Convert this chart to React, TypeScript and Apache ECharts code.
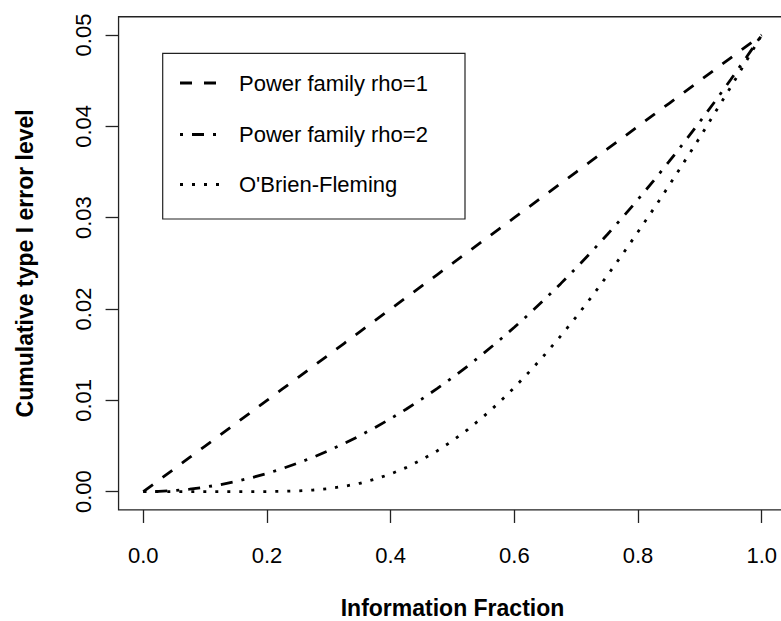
import React, { useEffect, useRef } from "react";
import * as echarts from "echarts";

const infoFraction = [0, 0.025, 0.05, 0.075, 0.1, 0.125, 0.15, 0.175, 0.2, 0.225, 0.25, 0.275, 0.3, 0.325, 0.35, 0.375, 0.4, 0.425, 0.45, 0.475, 0.5, 0.525, 0.55, 0.575, 0.6, 0.625, 0.65, 0.675, 0.7, 0.725, 0.75, 0.775, 0.8, 0.825, 0.85, 0.875, 0.9, 0.925, 0.95, 0.975, 1.0];
const powerRho1 = [0, 0.00125, 0.0025, 0.00375, 0.005, 0.00625, 0.0075, 0.00875, 0.01, 0.01125, 0.0125, 0.01375, 0.015, 0.01625, 0.0175, 0.01875, 0.02, 0.02125, 0.0225, 0.02375, 0.025, 0.02625, 0.0275, 0.02875, 0.03, 0.03125, 0.0325, 0.03375, 0.035, 0.03625, 0.0375, 0.03875, 0.04, 0.04125, 0.0425, 0.04375, 0.045, 0.04625, 0.0475, 0.04875, 0.05];
const powerRho2 = [0, 0.00003, 0.00013, 0.00028, 0.0005, 0.00078, 0.00113, 0.00153, 0.002, 0.00253, 0.00313, 0.00378, 0.0045, 0.00528, 0.00613, 0.00703, 0.008, 0.00903, 0.01013, 0.01128, 0.0125, 0.01378, 0.01513, 0.01653, 0.018, 0.01953, 0.02113, 0.02278, 0.0245, 0.02628, 0.02813, 0.03003, 0.032, 0.03403, 0.03613, 0.03828, 0.0405, 0.04278, 0.04513, 0.04753, 0.05];
const obrienFleming = [0, 0, 0, 0, 0, 0, 0, 0.000003, 0.000012, 0.000036, 0.000089, 0.000186, 0.000346, 0.000586, 0.00092, 0.00137, 0.00194, 0.00264, 0.0035, 0.00446, 0.00557, 0.00683, 0.00822, 0.00974, 0.0114, 0.01318, 0.01506, 0.01705, 0.01913, 0.02134, 0.02364, 0.026, 0.02845, 0.03094, 0.0335, 0.03614, 0.0388, 0.04156, 0.0443, 0.04714, 0.05];

const xTickValues = [0, 0.2, 0.4, 0.6, 0.8, 1.0];
const yTickValues = [0, 0.01, 0.02, 0.03, 0.04, 0.05];
const seriesNames = ["Power family rho=1", "Power family rho=2", "O'Brien-Fleming"];
const dashPatterns = [[12, 12], [3, 9, 12, 9], [3, 9]];
const xTitle = "Information Fraction";
const yTitle = "Cumulative type I error level";

const FONT = '"Liberation Sans", Arial, Helvetica, sans-serif';

export default function App() {
  const ref = useRef<HTMLDivElement>(null);
  useEffect(() => {
    if (!ref.current) return;
    const chart = echarts.init(ref.current, null, { renderer: "svg" });
    const values = [powerRho1, powerRho2, obrienFleming];
    const W = 781;
    const gl = 143.3, gt = 35, gw = 618.4, gh = 456.7;
    const boxL = gl - 0.04 * gw, boxR = gl + 1.04 * gw;
    const boxT = gt - 0.04 * gh, boxB = gt + 1.04 * gh;
    const xMaxVisible = -0.04 + (W - boxL) / gw;
    const legendRows = [83, 134.5, 184.5];
    chart.setOption({
      animation: false,
      backgroundColor: "#fff",
      grid: {
        left: boxL,
        top: boxT,
        width: W - boxL,
        height: boxB - boxT,
        containLabel: false,
        outerBoundsMode: "none",
      },
      xAxis: {
        type: "value",
        min: -0.04,
        max: xMaxVisible,
        axisLine: { show: false, onZero: false },
        axisTick: { show: true, inside: false, length: 13, customValues: xTickValues, lineStyle: { color: "#222", width: 1.3 } },
        splitLine: { show: false },
        axisLabel: {
          margin: 35,
          color: "#000",
          fontSize: 22,
          fontFamily: FONT,
          customValues: xTickValues,
          formatter: (v: number) => v.toFixed(1),
        },
      },
      yAxis: {
        type: "value",
        min: -0.002,
        max: 0.052,
        axisLine: { show: false, onZero: false },
        axisTick: { show: true, inside: false, length: 13, customValues: yTickValues, lineStyle: { color: "#222", width: 1.3 } },
        splitLine: { show: false },
        axisLabel: {
          margin: 24,
          rotate: 90,
          color: "#000",
          fontSize: 22,
          fontFamily: FONT,
          customValues: yTickValues,
          formatter: (v: number) => v.toFixed(2),
        },
      },
      series: values.map((vals, i) => ({
        name: seriesNames[i],
        type: "line",
        data: infoFraction.map((x, j) => [x, vals[j]]),
        showSymbol: false,
        symbol: "none",
        clip: false,
        lineStyle: { color: "#000", width: 2.8, type: dashPatterns[i], cap: "butt" },
      })),
      graphic: [
        {
          type: "rect",
          shape: { x: boxL, y: boxT, width: boxR - boxL, height: boxB - boxT },
          style: { fill: "none", stroke: "#222", lineWidth: 1.3 },
          silent: true,
        },
        {
          type: "rect",
          shape: { x: 162.7, y: 53.3, width: 302.3, height: 165.7 },
          style: { fill: "#fff", stroke: "#222", lineWidth: 1.2 },
          silent: true,
          z: 10,
        },
        ...seriesNames.map((name, i) => ({
          type: "line",
          shape: { x1: 180, y1: legendRows[i], x2: 219, y2: legendRows[i] },
          style: { stroke: "#000", lineWidth: 2.8, lineDash: dashPatterns[i], lineCap: "butt" },
          silent: true,
          z: 11,
        })),
        ...seriesNames.map((name, i) => ({
          type: "text",
          x: 239,
          y: legendRows[i],
          style: {
            text: name,
            fill: "#000",
            fontSize: 22,
            fontFamily: FONT,
            align: "left",
            verticalAlign: "middle",
          },
          silent: true,
          z: 11,
        })),
        {
          type: "text",
          x: (boxL + boxR) / 2,
          y: 608,
          style: {
            text: xTitle,
            fill: "#000",
            fontSize: 23,
            fontWeight: "bold",
            fontFamily: FONT,
            align: "center",
            verticalAlign: "middle",
          },
          silent: true,
        },
        {
          type: "text",
          x: 25,
          y: (boxT + boxB) / 2,
          rotation: Math.PI / 2,
          style: {
            text: yTitle,
            fill: "#000",
            fontSize: 23,
            fontWeight: "bold",
            fontFamily: FONT,
            align: "center",
            verticalAlign: "middle",
          },
          silent: true,
        },
      ],
    });
    return () => chart.dispose();
  }, []);
  return (
    <div
      ref={ref}
      style={{ position: "fixed", left: 0, top: 0, width: 781, height: 621, background: "#fff" }}
    />
  );
}
